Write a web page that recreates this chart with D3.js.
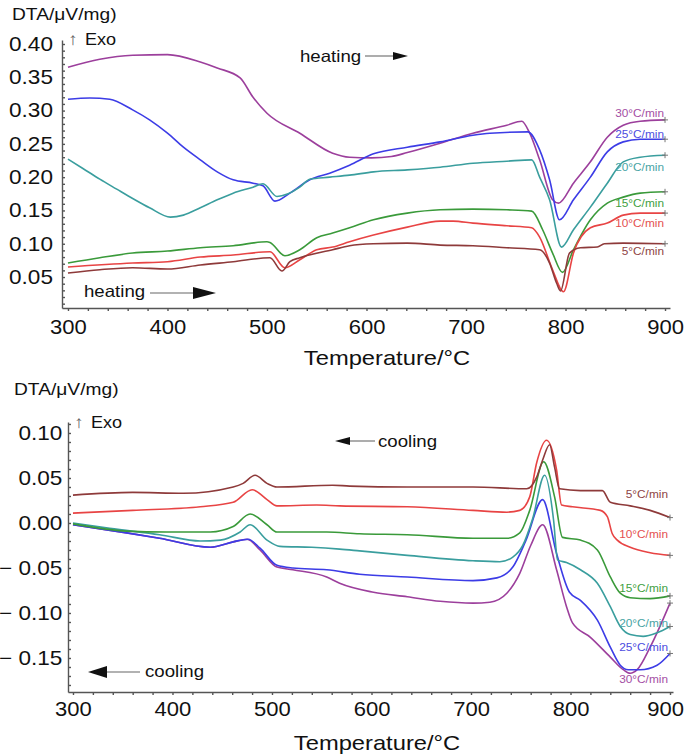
<!DOCTYPE html>
<html lang="en">
<head>
<meta charset="UTF-8">
<title>DTA heating / cooling</title>
<script src="https://cdn.jsdelivr.net/npm/d3@7"></script>
<style>
  body { margin: 0; background: #fff; }
  svg { display: block; font-family: "Liberation Sans", Arial, Helvetica, sans-serif; }
  .axis path, .axis line { stroke: #555; stroke-width: 1.4; }
</style>
</head>
<body>
<svg id="chart" width="685" height="756"></svg>
<script>
// rates, top to bottom in the legend order
const rates = ["30°C/min", "25°C/min", "20°C/min", "15°C/min", "10°C/min", "5°C/min"];
const lineColors = ["#9c3f9c", "#3c3ce6", "#3a9e9e", "#3a9a3a", "#e84444", "#8e3a3a"];
const textColors = ["#a44ea4", "#4c4ce0", "#48a4a4", "#3f9f3f", "#e45050", "#8e4444"];

// heating curves [temperature °C, DTA µV/mg]
const heat30 = [[300,0.365],[332,0.377],[365,0.383],[400,0.384],[433,0.373],[450,0.364],[473,0.349],[486,0.320],[500,0.296],[533,0.266],[566,0.236],[583,0.230],[605,0.229],[625,0.231],[641,0.237],[674,0.251],[707,0.266],[741,0.278],[756,0.284],[764,0.266],[774,0.226],[787,0.166],[793,0.161],[808,0.191],[825,0.223],[842,0.260],[858,0.278],[875,0.284],[900,0.286]];
const heat25 = [[300,0.317],[322,0.319],[342,0.317],[365,0.301],[382,0.286],[400,0.266],[416,0.245],[433,0.226],[450,0.208],[466,0.196],[486,0.191],[496,0.187],[508,0.164],[523,0.176],[543,0.196],[563,0.206],[583,0.218],[607,0.235],[641,0.245],[674,0.253],[707,0.263],[724,0.266],[762,0.268],[774,0.241],[784,0.196],[794,0.136],[808,0.166],[825,0.200],[842,0.238],[858,0.253],[875,0.257],[900,0.257]];
const heat20 = [[300,0.227],[315,0.213],[332,0.197],[349,0.182],[365,0.168],[382,0.154],[403,0.140],[416,0.143],[433,0.154],[450,0.166],[466,0.176],[486,0.185],[496,0.190],[510,0.171],[533,0.185],[543,0.197],[563,0.200],[583,0.203],[607,0.208],[641,0.211],[674,0.215],[707,0.221],[741,0.224],[766,0.226],[774,0.200],[784,0.166],[796,0.095],[808,0.121],[825,0.155],[842,0.191],[858,0.223],[875,0.230],[900,0.233]];
const heat15 = [[300,0.071],[332,0.079],[365,0.086],[400,0.089],[433,0.094],[466,0.097],[500,0.103],[503,0.102],[518,0.082],[533,0.091],[550,0.109],[566,0.116],[583,0.124],[607,0.136],[641,0.146],[674,0.151],[707,0.152],[741,0.151],[766,0.149],[777,0.121],[787,0.086],[797,0.057],[808,0.091],[825,0.136],[842,0.161],[858,0.170],[875,0.176],[900,0.178]];
const heat10 = [[300,0.065],[365,0.071],[400,0.073],[433,0.080],[466,0.083],[503,0.088],[518,0.064],[533,0.076],[550,0.091],[566,0.095],[583,0.103],[607,0.113],[641,0.125],[674,0.134],[687,0.134],[707,0.131],[741,0.127],[766,0.124],[774,0.110],[787,0.061],[798,0.028],[808,0.086],[825,0.124],[842,0.131],[858,0.143],[875,0.146],[900,0.146]];
const heat5 = [[300,0.056],[332,0.061],[365,0.064],[400,0.062],[433,0.068],[466,0.073],[503,0.079],[515,0.059],[523,0.073],[533,0.079],[566,0.091],[583,0.097],[607,0.100],[641,0.101],[674,0.098],[707,0.097],[741,0.094],[774,0.091],[784,0.071],[791,0.041],[795,0.029],[804,0.086],[815,0.094],[832,0.095],[839,0.100],[858,0.101],[900,0.100]];

// cooling curves [temperature °C, DTA µV/mg]
const cool30 = [[300,-0.002],[354,-0.011],[387,-0.017],[438,-0.027],[461,-0.021],[475,-0.018],[488,-0.030],[505,-0.049],[521,-0.052],[555,-0.060],[568,-0.067],[602,-0.077],[636,-0.082],[669,-0.087],[702,-0.089],[719,-0.088],[736,-0.078],[749,-0.056],[760,-0.025],[772,-0.002],[786,-0.052],[796,-0.093],[802,-0.111],[820,-0.127],[840,-0.149],[853,-0.163],[860,-0.167],[867,-0.163],[880,-0.138],[900,-0.089]];
const cool25 = [[300,-0.002],[354,-0.011],[387,-0.017],[438,-0.027],[461,-0.021],[476,-0.018],[488,-0.028],[505,-0.047],[521,-0.050],[555,-0.052],[588,-0.057],[636,-0.060],[702,-0.064],[726,-0.061],[742,-0.049],[755,-0.020],[772,0.026],[786,-0.034],[799,-0.077],[810,-0.086],[827,-0.108],[840,-0.138],[850,-0.158],[858,-0.163],[870,-0.163],[887,-0.158],[900,-0.145]];
const cool20 = [[300,0.000],[337,-0.006],[387,-0.013],[428,-0.020],[448,-0.019],[468,-0.010],[478,-0.002],[495,-0.019],[508,-0.026],[540,-0.027],[568,-0.029],[588,-0.031],[636,-0.036],[702,-0.042],[729,-0.043],[742,-0.038],[752,-0.025],[762,0.005],[774,0.053],[783,0.003],[787,-0.041],[796,-0.044],[810,-0.052],[827,-0.067],[840,-0.093],[850,-0.115],[860,-0.124],[873,-0.126],[887,-0.122],[900,-0.115]];
const cool15 = [[300,-0.001],[354,-0.009],[394,-0.010],[438,-0.010],[461,-0.004],[478,0.010],[495,-0.002],[505,-0.010],[555,-0.010],[588,-0.012],[636,-0.013],[702,-0.017],[736,-0.017],[749,-0.011],[759,0.014],[773,0.068],[784,0.029],[792,-0.016],[810,-0.019],[827,-0.030],[840,-0.060],[850,-0.078],[860,-0.083],[880,-0.084],[900,-0.081]];
const cool10 = [[300,0.011],[360,0.014],[428,0.018],[461,0.023],[480,0.037],[495,0.026],[505,0.019],[545,0.020],[568,0.019],[636,0.018],[702,0.014],[736,0.012],[749,0.014],[759,0.029],[766,0.067],[776,0.092],[786,0.059],[791,0.020],[802,0.018],[830,0.014],[837,0.007],[842,-0.012],[847,-0.019],[860,-0.027],[880,-0.033],[900,-0.036]];
const cool5 = [[300,0.031],[360,0.034],[411,0.033],[461,0.040],[471,0.044],[483,0.053],[495,0.044],[505,0.040],[561,0.042],[578,0.041],[636,0.040],[702,0.040],[756,0.038],[766,0.051],[772,0.070],[779,0.087],[784,0.062],[789,0.038],[810,0.036],[832,0.036],[840,0.023],[860,0.019],[880,0.014],[900,0.006]];

const heating = [heat30, heat25, heat20, heat15, heat10, heat5];
const cooling = [cool30, cool25, cool20, cool15, cool10, cool5];

const SX = 1.13; // the figure is slightly stretched horizontally
const svg = d3.select("#chart");
svg.append("rect").attr("width", 685).attr("height", 756).attr("fill", "#fff");

function txt(g, x, y, s, size, anchor, fill) {
  return g.append("text")
    .attr("transform", `translate(${x},${y}) scale(${SX},1)`)
    .attr("font-size", size)
    .attr("text-anchor", anchor || "start")
    .attr("fill", fill || "#111")
    .text(s);
}

function arrow(g, x1, x2, y, h, w) {
  // gray shaft, black head; w>0 points right, w<0 points left
  const tip = w > 0 ? x2 : x1;
  const base = tip - w;
  g.append("line")
    .attr("x1", w > 0 ? x1 : base).attr("x2", w > 0 ? base : x2)
    .attr("y1", y).attr("y2", y)
    .attr("stroke", "#999").attr("stroke-width", 1.6);
  g.append("path")
    .attr("d", `M${base},${y - h}L${tip},${y}L${base},${y + h}Z`)
    .attr("fill", "#111");
}

function panel(cfg) {
  const g = svg.append("g");
  const x = d3.scaleLinear().domain(cfg.xDomain).range(cfg.xRange);
  const y = d3.scaleLinear().domain(cfg.yDomain).range(cfg.yRange);

  const yTicks = d3.range(cfg.yMin, cfg.yMax + 1).map(i => i / 100);
  const yAxis = d3.axisLeft(y)
    .tickValues(yTicks)
    .tickSize(-3).tickSizeOuter(0).tickPadding(cfg.yPad)
    .tickFormat(v => {
      const i = Math.round(v * 100);
      if (i % 5 !== 0) return "";
      return v < 0 ? "\u2212 " + Math.abs(v).toFixed(2) : v.toFixed(2);
    });
  const ya = g.append("g").attr("class", "axis")
    .attr("transform", `translate(${cfg.xRange[0]},0)`)
    .call(yAxis);
  ya.selectAll("text")
    .attr("font-size", 20).attr("fill", "#111")
    .attr("transform", `scale(${SX},1)`);

  const xAxis = d3.axisBottom(x)
    .tickValues(d3.range(300, 901, 20))
    .tickSize(3).tickSizeOuter(0).tickPadding(cfg.xPad)
    .tickFormat(v => v % 100 === 0 ? v : "");
  const xa = g.append("g").attr("class", "axis")
    .attr("transform", `translate(0,${cfg.yRange[0]})`)
    .call(xAxis);
  xa.selectAll("text")
    .attr("font-size", 19.5).attr("fill", "#111")
    .attr("transform", d => `translate(${d === 900 ? cfg.lastShift : 0},0) scale(${SX},1)`);
  ya.select(".domain").attr("stroke-width", 1.6);
  xa.select(".domain").attr("stroke-width", 1.6);

  const line = d3.line()
    .x(d => x(d[0])).y(d => y(d[1]))
    .curve(d3.curveMonotoneX);

  cfg.series.forEach((s, i) => {
    g.append("path").datum(s)
      .attr("d", line)
      .attr("fill", "none")
      .attr("stroke", lineColors[i])
      .attr("stroke-width", 1.6)
      .attr("stroke-linejoin", "round");
    const last = s[s.length - 1];
    const px = x(last[0]), py = y(last[1]);
    g.append("path")
      .attr("d", `M${px - 3},${py}H${px + 3}M${px},${py - 3}V${py + 3}`)
      .attr("stroke", "#777").attr("stroke-width", 1);
    txt(g, cfg.labelX, cfg.labelY[i], rates[i], 10.5, "end", textColors[i]);
  });

  // headings
  txt(g, cfg.titleX, cfg.titleY, "DTA/\u03bcV/mg)", 17);
  txt(g, cfg.exoX, cfg.exoY, "\u2191", 17, "start", "#666");
  txt(g, cfg.exoX + 17, cfg.exoY, "Exo", 16);
  txt(g, cfg.axisTitleX, cfg.axisTitleY, "Temperature/\u00b0C", 21, "middle");
  return g;
}

const heatPanel = panel({
  series: heating,
  xDomain: [294, 905], xRange: [62, 670],
  yDomain: [0.0035, 0.406], yRange: [308, 40],
  yMin: 1, yMax: 40, yPad: 8, xPad: 9, lastShift: 0,
  labelX: 664, labelY: [117, 138, 171, 207, 227, 255],
  titleX: 12, titleY: 20, exoX: 68, exoY: 45,
  axisTitleX: 387, axisTitleY: 365
});
txt(heatPanel, 300, 62, "heating", 16.5);
arrow(heatPanel, 365, 408, 56, 4, 15);
txt(heatPanel, 84, 297, "heating", 16.5);
arrow(heatPanel, 150, 216, 293, 6, 23);

const coolPanel = panel({
  series: cooling,
  xDomain: [295, 903], xRange: [68, 673],
  yDomain: [-0.1878, 0.1122], yRange: [692, 422],
  yMin: -18, yMax: 11, yPad: 5, xPad: 7, lastShift: -5,
  labelX: 668, labelY: [683, 651, 627, 592, 538, 498],
  titleX: 14, titleY: 395, exoX: 74, exoY: 428,
  axisTitleX: 377, axisTitleY: 750
});
txt(coolPanel, 378, 447, "cooling", 16.5);
arrow(coolPanel, 335, 375, 441, 4, -15);
txt(coolPanel, 145, 677, "cooling", 16.5);
arrow(coolPanel, 88, 140, 672, 6, -19);
</script>
</body>
</html>
